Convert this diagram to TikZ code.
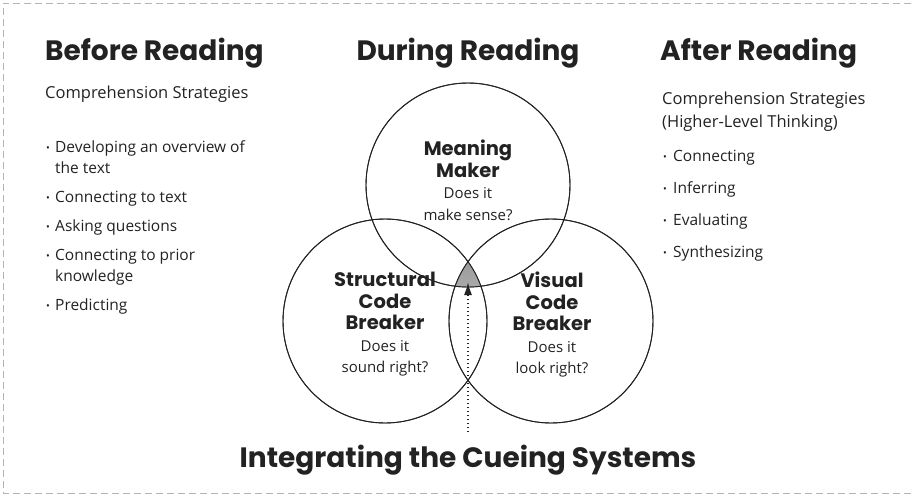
\documentclass[tikz,border=0pt]{standalone}
\usepackage{fontspec}
\setmainfont{Open Sans}
\newfontfamily\headfont{Poppins}
\usetikzlibrary{arrows.meta,positioning}
\definecolor{ink}{HTML}{222222}
\definecolor{shade}{HTML}{C4C4C4}
\definecolor{scan}{HTML}{B4B4B4}
\tikzset{
  heading/.style={font=\headfont\bfseries\fontsize{28}{32}\selectfont,text=ink,inner sep=0pt},
  sub/.style={font=\fontsize{16.5}{22}\selectfont,text=ink,inner sep=0pt,anchor=base west},
  item/.style={font=\fontsize{15.5}{21}\selectfont,text=ink,inner sep=0pt,anchor=base west},
  dot/.style={font=\fontsize{10}{10}\selectfont,text=ink,inner sep=0pt,anchor=base},
  ring/.style={circle,draw=ink,line width=0.9pt,minimum size=204pt,inner sep=0pt},
  role/.style={align=center,text=ink,inner sep=0pt,anchor=north,font=\fontsize{15}{21.5}\selectfont},
  cue/.style={-{Latex[length=13pt,width=8pt]},line width=1.7pt,dash pattern=on 1.7pt off 2.3pt,color=ink},
  frame/.style={draw=scan,line width=0.6pt,dash pattern=on 7pt off 4pt},
}
\newcommand{\rolefont}{\headfont\bfseries\fontsize{19.5}{21.5}\selectfont}

\begin{document}
\begin{tikzpicture}[x=1pt,y=-1pt]
  \useasboundingbox (0,0) rectangle (914,496);
  % scanned page edge
  \draw[frame] (911,3) -- (3,3) -- (3,493) -- (911,493);

  % column headings
  \node[heading,anchor=base west] (before) at (45,60) {Before Reading};
  \node[heading,anchor=base] (during) at (468,60) {During Reading};
  \node[heading,anchor=base west] (after) at (660,60) {After Reading};

  % before reading list
  \node[sub] (bsub) at (45,98) {Comprehension Strategies};
  \foreach \y/\t/\b [count=\i] in {152/Developing an overview of/1, 173/the text/0,
      202/Connecting to text/1, 231/Asking questions/1,
      260/Connecting to prior/1, 281/knowledge/0, 310/Predicting/1} {
    \node[item] (bl\i) at (55,\y) {\t};
    \ifnum\b=1 \node[dot] (bd\i) at (48,\y-1) {\textbullet}; \fi
  }

  % after reading list
  \node[sub] (asub) at (662,104) {Comprehension Strategies};
  \node[sub] (asub2) at (662,127) {(Higher-Level Thinking)};
  \foreach \y/\t [count=\i] in {161/Connecting, 193/Inferring,
      225/Evaluating, 257/Synthesizing} {
    \node[item] (al\i) at (673,\y) {\t};
    \node[dot] (ad\i) at (665,\y-1) {\textbullet};
  }

  % the three cueing systems
  \node[ring] (meaning) at (468,185) {};
  \node[ring] (structural) at (385,321) {};
  \node[ring] (visual) at (551,321) {};
  \begin{scope}
    \clip (meaning.center) circle (102pt);
    \clip (structural.center) circle (102pt);
    \fill[shade] (visual.center) circle (102pt);
  \end{scope}
  \draw[ink,line width=0.9pt] (meaning.center) circle (102pt)
    (structural.center) circle (102pt) (visual.center) circle (102pt);

  \node[role] (mtext) at (468,140) {\rolefont Meaning\\\rolefont Maker\\Does it\\make sense?};
  \node[role] (stext) at (385,272) {\rolefont Structural\\\rolefont Code\\\rolefont Breaker\\Does it\\sound right?};
  \node[role] (vtext) at (552,272) {\rolefont Visual\\\rolefont Code\\\rolefont Breaker\\Does it\\look right?};

  % integrating arrow
  \node[heading,anchor=base] (title) at (468,467) {Integrating the Cueing Systems};
  \coordinate (hub) at (468,282);
  \draw[cue] ([yshift=12pt]title.north) -- (hub);
\end{tikzpicture}
\end{document}
